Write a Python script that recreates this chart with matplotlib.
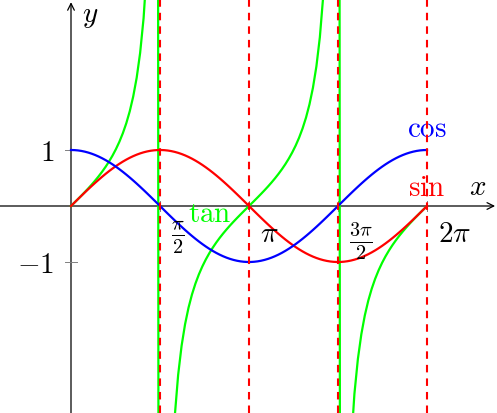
import numpy as np
import matplotlib
matplotlib.use("Agg")
import matplotlib.pyplot as plt

plt.rcParams['mathtext.fontset'] = 'cm'
plt.rcParams['font.family'] = ['DejaVu Serif']

# ---- data ----
x_domain = (0.0, 2 * np.pi)
n_samples = 104
xtick_values = [np.pi / 2, np.pi, 3 * np.pi / 2, 2 * np.pi]
xtick_labels = [r'$\frac{\pi}{2}$', r'$\pi$', r'$\frac{3\pi}{2}$', r'$2\pi$']
ytick_values = [1, -1]
ytick_labels = [r'$1$', r'$-1$']
curve_names = ['sin', 'cos', 'tan']

RED = '#ff0000'
BLUE = '#0000ff'
GREEN = '#00ff00'

fig = plt.figure(figsize=(4.97, 4.13), dpi=100)
ax = fig.add_axes([0, 0, 1, 1])

px_x = 56.66  # pixels per unit
px_y = 56.0
x0_px, y0_px = 71, 206
W, H = 497, 413
ax.set_xlim(-x0_px / px_x, (W - x0_px) / px_x)
ax.set_ylim(-(H - y0_px) / px_y, y0_px / px_y)
ax.set_autoscale_on(False)

for s in ax.spines.values():
    s.set_visible(False)
ax.set_xticks([])
ax.set_yticks([])

x = np.linspace(x_domain[0], x_domain[1], n_samples)

# axes with arrows
xmin, xmax = ax.get_xlim()
ymin, ymax = ax.get_ylim()
ax.annotate('', xy=(7.485, 0), xytext=(xmin, 0),
            arrowprops=dict(arrowstyle='->', lw=0.9, color='black',
                            shrinkA=0, shrinkB=0, mutation_scale=12), zorder=1)
ax.annotate('', xy=(0, 3.64), xytext=(0, ymin),
            arrowprops=dict(arrowstyle='->', lw=0.9, color='black',
                            shrinkA=0, shrinkB=0, mutation_scale=12), zorder=1)

# ticks
tick_color = '#808080'
for xv in xtick_values:
    ax.plot([xv, xv], [-5 / px_y, 5 / px_y], color=tick_color, lw=0.7, zorder=1.5)
for yv in ytick_values:
    ax.plot([-6 / px_x, 6 / px_x], [yv, yv], color=tick_color, lw=0.7, zorder=1.5)

# curves
ax.plot(x, np.sin(x), color=RED, lw=1.6, zorder=3)
ax.plot(x, np.cos(x), color=BLUE, lw=1.6, zorder=3)
ax.plot(x, np.tan(x), color=GREEN, lw=1.6, zorder=2.5)

# dashed verticals
for xv in xtick_values:
    ax.plot([xv, xv], [ymin, ymax], color=RED, lw=1.5,
            linestyle=(0, (3.6, 2.9)), zorder=4)

fs = 21
# tick labels
for xv, lab in zip(xtick_values, xtick_labels):
    ax.annotate(lab, xy=(xv, 0), xytext=(11, -14), textcoords='offset pixels',
                ha='left', va='top', fontsize=fs, color='black')
for yv, lab in zip(ytick_values, ytick_labels):
    ax.annotate(lab, xy=(0, yv), xytext=(-17, 0), textcoords='offset pixels',
                ha='right', va='center_baseline', fontsize=fs, color='black')

# axis labels
ax.text((478 - x0_px) / px_x, (y0_px - 195) / px_y, r'$x$', fontsize=fs,
        ha='center', va='baseline')
ax.text((90 - x0_px) / px_x, (y0_px - 22) / px_y, r'$y$', fontsize=fs,
        ha='center', va='baseline')

# curve labels
ax.text(2 * np.pi, (y0_px - 137) / px_y, r'$\mathrm{%s}$' % curve_names[1],
        color=BLUE, fontsize=fs, ha='center', va='baseline')
ax.text(2 * np.pi, (y0_px - 196) / px_y, r'$\mathrm{%s}$' % curve_names[0],
        color=RED, fontsize=fs, ha='center', va='baseline')
ax.text((210 - x0_px) / px_x, (y0_px - 222) / px_y, r'$\mathrm{%s}$' % curve_names[2],
        color=GREEN, fontsize=fs, ha='center', va='baseline')

fig.savefig('out.png', dpi=100)
